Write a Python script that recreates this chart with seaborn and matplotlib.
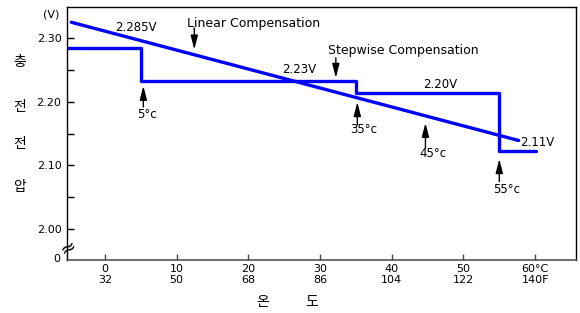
import matplotlib
matplotlib.use("Agg")
import matplotlib.pyplot as plt
import seaborn as sns

# Dados
lin_temp = [-4.7, 57.7]
lin_volt = [2.325, 2.139]

step_temp = [-5.3, 5, 35, 55, 60.1]
step_volt = [2.284, 2.232, 2.214, 2.123, 2.123]

xtick_c = [0, 10, 20, 30, 40, 50, 60]
xtick_f = [32, 50, 68, 86, 104, 122, 140]
ytick_v = [2.00, 2.10, 2.20, 2.30]
ytick_minor = [2.05, 2.15, 2.25]

sns.set_theme(style="white")
plt.rcParams["font.family"] = ["DejaVu Sans", "Noto Sans CJK KR"]
plt.rcParams["text.color"] = "black"
plt.rcParams["xtick.color"] = "black"
plt.rcParams["ytick.color"] = "black"
plt.rcParams["xtick.direction"] = "in"
plt.rcParams["ytick.direction"] = "in"

fig = plt.figure(figsize=(5.8, 3.13), dpi=100)
ax = fig.add_axes([67 / 580, 1 - 260 / 313, 509 / 580, 253 / 313])

azul = "#0000ff"
sns.lineplot(x=lin_temp, y=lin_volt, ax=ax, color=azul, lw=2.4, sort=False)
sns.lineplot(x=step_temp, y=step_volt, ax=ax, color=azul, lw=2.4,
             drawstyle="steps-post", sort=False)

ax.set_xlim(-5.3, 65.7)
ax.set_ylim(1.951, 2.349)

# Eixos
for s in ["top", "right", "left"]:
    ax.spines[s].set_color("black")
    ax.spines[s].set_linewidth(1.0)
ax.spines["bottom"].set_color("#555555")
ax.spines["bottom"].set_linewidth(1.2)

xlabels = [f"{c}\n{f}" for c, f in zip(xtick_c, xtick_f)]
xlabels[-1] = "60°C\n140F"
ax.set_xticks(xtick_c)
ax.set_xticklabels(xlabels, fontsize=8, linespacing=1.05)
ax.tick_params(axis="x", bottom=True, direction="in", length=4, width=1,
               color="#444444", pad=3)

ax.set_yticks(ytick_v)
ax.set_yticklabels([f"{v:.2f}" for v in ytick_v], fontsize=8)
ax.set_yticks(ytick_minor, minor=True)
ax.tick_params(axis="y", which="both", left=True, direction="in", length=5,
               width=1, color="black", pad=4)

# Textos fora do gráfico
ax.text(-7.5, 2.337, "(V)", fontsize=8, ha="center", va="center", clip_on=False)
ax.text(-6.3, 1.952, "0", fontsize=8, ha="right", va="center", clip_on=False)
ax.text(-5.1, 1.970, "≈", fontsize=14, ha="center", va="center", rotation=30,
        clip_on=False)

for ch, py in zip(["충", "전", "전", "압"], [62, 107, 144, 187]):
    fig.text(20 / 580, 1 - py / 313, ch, fontsize=10, ha="center", va="center",
             family="Noto Sans CJK KR")
for ch, px in zip(["온", "도"], [263, 312]):
    fig.text(px / 580, 1 - 302 / 313, ch, fontsize=10, ha="center", va="center",
             family="Noto Sans CJK KR")

# Rótulos de tensão
ax.text(4.26, 2.317, "2.285V", fontsize=8.5, ha="center", va="center")
ax.text(27.1, 2.250, "2.23V", fontsize=8.5, ha="center", va="center")
ax.text(46.7, 2.2266, "2.20V", fontsize=8.5, ha="center", va="center")
ax.text(57.9, 2.1365, "2.11V", fontsize=8.5, ha="left", va="center")

# Legendas com setas
seta = dict(arrowstyle="-|>,head_length=0.7,head_width=0.18", lw=1.0, color="black",
            shrinkA=0, shrinkB=0)
ax.text(11.44, 2.3236, "Linear Compensation", fontsize=9, ha="left", va="center")
ax.annotate("", xy=(12.46, 2.282), xytext=(12.46, 2.316), arrowprops=seta)
ax.text(31.1, 2.2805, "Stepwise Compensation", fontsize=9, ha="left", va="center")
ax.annotate("", xy=(32.2, 2.2375), xytext=(32.2, 2.269), arrowprops=seta)

marcas = [("5°c", 5.35, 2.225, 2.192, 5.8, 2.180),
          ("35°c", 35.2, 2.1994, 2.1636, 36.1, 2.156),
          ("45°c", 44.7, 2.1668, 2.1275, 45.7, 2.118),
          ("55°c", 55.0, 2.1098, 2.0745, 56.05, 2.0626)]
for txt, xa, y_tip, y_base, xt, yt in marcas:
    ax.annotate("", xy=(xa, y_tip), xytext=(xa, y_base), arrowprops=seta)
    ax.text(xt, yt, txt, fontsize=8.5, ha="center", va="center")

fig.savefig("out.png", dpi=100)
